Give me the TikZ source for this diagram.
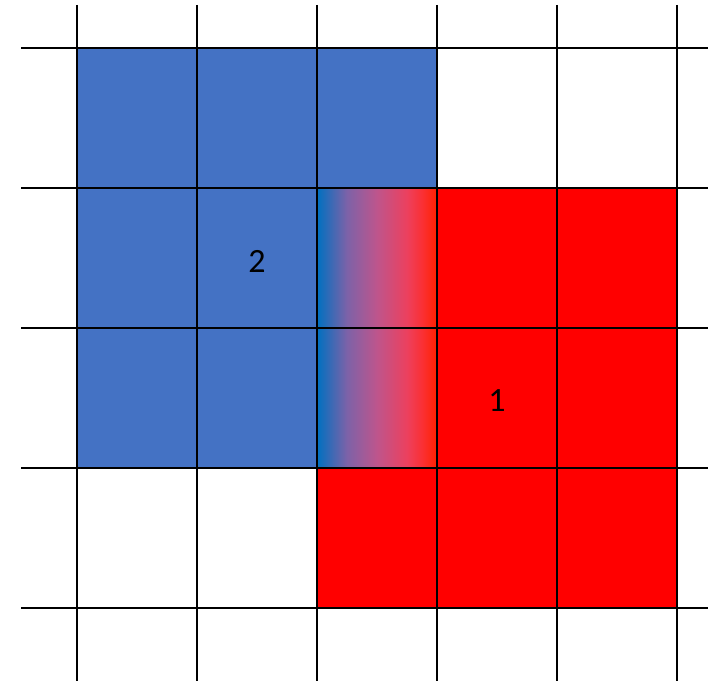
\documentclass[tikz,border=0pt]{standalone}
\usepackage{fontspec}
\setmainfont{Carlito}
\usepackage{tikz}

\definecolor{cellblue}{RGB}{68,114,196}
\definecolor{cellred}{RGB}{255,0,0}
\definecolor{gradblue}{RGB}{0,112,192}
\definecolor{gradpurple}{RGB}{125,98,168}
\definecolor{gradmid}{RGB}{190,85,140}
\definecolor{gradpink}{RGB}{236,64,94}
\definecolor{gradorange}{RGB}{250,48,52}
\definecolor{gradred}{RGB}{255,32,0}

\pgfdeclarehorizontalshading{mixshade}{100bp}{
  color(0bp)=(gradblue); color(25bp)=(gradblue);
  color(37.5bp)=(gradpurple); color(50bp)=(gradmid);
  color(62.5bp)=(gradpink); color(68.75bp)=(gradorange);
  color(75bp)=(gradred); color(100bp)=(gradred)}

\begin{document}
\begin{tikzpicture}[
  x=1pt, y=-1pt,
  gridline/.style={draw=black, line width=1.5pt},
  bluefill/.style={fill=cellblue},
  redfill/.style={fill=cellred},
  mixfill/.style={shading=mixshade},
  num/.style={font=\fontsize{34}{40}\selectfont, text=black, inner sep=0pt}
]
  \useasboundingbox (0,0) rectangle (708,687);

  % Region 2 (blue)
  \fill[bluefill] (77,48) rectangle (437,188);
  \fill[bluefill] (77,188) rectangle (317,468);

  % Region 1 (red)
  \fill[redfill] (437,188) rectangle (677,608);
  \fill[redfill] (317,468) rectangle (437,608);

  % Mixed column between the two regions
  \shade[mixfill] (317,188) rectangle (437,468);

  % Grid
  \foreach \gx in {77,197,317,437,557,677}
    \draw[gridline] (\gx,5) -- (\gx,681);
  \foreach \gy in {48,188,328,468,608}
    \draw[gridline] (21,\gy) -- (708,\gy);

  % Labels
  \node[num] (lbltwo) at (257,261) {2};
  \node[num] (lblone) at (497,401) {1};

\end{tikzpicture}
\end{document}
